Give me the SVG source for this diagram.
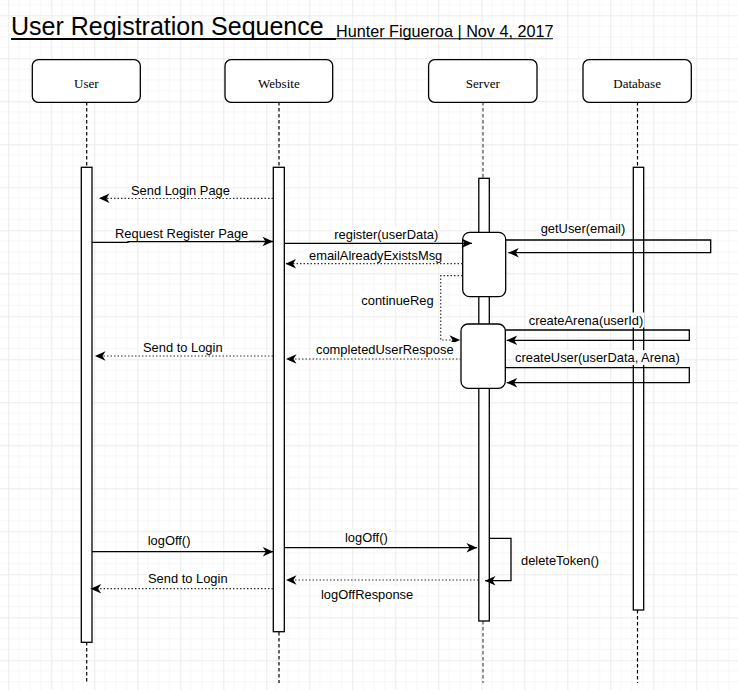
<svg xmlns="http://www.w3.org/2000/svg" width="738" height="690" viewBox="0 0 738 690">
<defs>
<pattern id="grid" patternUnits="userSpaceOnUse" x="8.3" y="15.3" width="43" height="43">
<path d="M10.75,0V43M21.5,0V43M32.25,0V43M0,10.75H43M0,21.5H43M0,32.25H43" stroke="#f6f6f6" stroke-width="1" fill="none"/>
<path d="M0.5,0V43M0,0.5H43" stroke="#ebebeb" stroke-width="1" fill="none"/>
</pattern>
<marker id="arr" markerUnits="userSpaceOnUse" markerWidth="12" markerHeight="10" refX="10.5" refY="4.75" orient="auto" overflow="visible">
<path d="M0,0 L10.5,4.75 L0,9.5 L3,4.75 z" fill="#000"/>
</marker>
</defs>
<style>
.head{fill:#fff;stroke:#000;stroke-width:1.3}
.ht{font-family:"Liberation Serif",serif;font-size:13px;fill:#000;text-anchor:middle}
.bar{fill:#fff;stroke:#000;stroke-width:1.3}
.life{stroke:#000;stroke-width:1.2;stroke-dasharray:3.5 2.5;fill:none}
.sol{stroke:#000;stroke-width:1.3;fill:none}
.dot{stroke:#333;stroke-width:1.2;stroke-dasharray:1.5 2;fill:none}
.lb{font-family:"Liberation Sans",Arial,sans-serif;font-size:12.9px;fill:#000}
.bg{fill:#fff}
</style>
<rect width="738" height="690" fill="#fff"/>
<rect width="738" height="690" fill="url(#grid)"/>

<g id="title">
<text x="11" y="35" font-family="Liberation Sans,Arial,sans-serif" font-size="25px" fill="#000">User Registration Sequence</text>
<line x1="11" y1="39" x2="336" y2="39" stroke="#000" stroke-width="1.8"/>
<text x="336" y="37" font-family="Liberation Sans,Arial,sans-serif" font-size="16.2px" fill="#000">Hunter Figueroa | Nov 4, 2017</text>
<line x1="336" y1="38.8" x2="553" y2="38.8" stroke="#000" stroke-width="1.1"/>
</g>

<g id="lifelines">
<line class="life" x1="86.7" y1="102" x2="86.7" y2="167"/>
<line class="life" x1="86.7" y1="642" x2="86.7" y2="683"/>
<line class="life" x1="279" y1="102" x2="279" y2="167"/>
<line class="life" x1="279" y1="632" x2="279" y2="683"/>
<line class="life" x1="483" y1="102" x2="483" y2="178" style="stroke:#777;stroke-width:1.6"/>
<line class="life" x1="483" y1="621" x2="483" y2="683" style="stroke:#777;stroke-width:1.6"/>
<line class="life" x1="637.5" y1="102" x2="637.5" y2="167"/>
<line class="life" x1="637.5" y1="610" x2="637.5" y2="683"/>
</g>

<g id="user">
<rect class="head" x="32.3" y="59.7" width="108" height="42.6" rx="6"/>
<text class="ht" x="86.3" y="87.5">User</text>
<rect class="bar" x="81.3" y="167.3" width="10.7" height="475"/>
</g>
<g id="website">
<rect class="head" x="225" y="59.7" width="107.7" height="42.6" rx="6"/>
<text class="ht" x="278.9" y="87.5">Website</text>
<rect class="bar" x="273.3" y="167.3" width="11" height="464.4"/>
</g>
<g id="server">
<rect class="head" x="428.6" y="59.7" width="108.4" height="42.6" rx="6"/>
<text class="ht" x="482.8" y="87.5">Server</text>
<rect class="bar" x="478.8" y="178.3" width="10.5" height="442.7"/>
<rect class="bar" x="462.7" y="232.3" width="43" height="64.4" rx="7"/>
<rect class="bar" x="461" y="324" width="44.3" height="64.3" rx="7"/>
</g>
<g id="database">
<rect class="head" x="583" y="59.7" width="108.3" height="42.6" rx="6"/>
<text class="ht" x="637.1" y="87.5">Database</text>
<rect class="bar" x="633.3" y="167.3" width="10.4" height="442.7"/>
</g>

<g id="connectors">
<line class="dot" x1="273" y1="198.3" x2="99" y2="198.3" marker-end="url(#arr)"/>
<polyline class="sol" points="92,242.3 128,242.3 128,241.5 273,241.5" marker-end="url(#arr)"/>
<line class="sol" x1="285" y1="243.3" x2="472" y2="243.3" marker-end="url(#arr)"/>
<line class="dot" x1="462.5" y1="263.7" x2="285.5" y2="263.7" marker-end="url(#arr)"/>
<polyline class="sol" points="505.7,240 710.7,240 710.7,252.7 508.3,252.7" marker-end="url(#arr)"/>
<polyline class="dot" points="462.5,275.7 440.7,275.7 440.7,340 460,340" marker-end="url(#arr)"/>
<polyline class="sol" points="505.3,330 689.3,330 689.3,340.3 506.7,340.3" marker-end="url(#arr)"/>
<polyline class="sol" points="505.3,367.7 689.3,367.7 689.3,382.7 506.7,382.7" marker-end="url(#arr)"/>
<line class="dot" x1="461" y1="359" x2="286" y2="359" marker-end="url(#arr)"/>
<line class="dot" x1="273" y1="356" x2="95" y2="356" marker-end="url(#arr)"/>
<line class="sol" x1="92" y1="551.7" x2="273.3" y2="551.7" marker-end="url(#arr)"/>
<line class="sol" x1="284.5" y1="547.7" x2="477" y2="547.7" marker-end="url(#arr)"/>
<polyline class="sol" points="489.3,538.3 511,538.3 511,580.7 485,580.7" marker-end="url(#arr)"/>
<line class="dot" x1="478.5" y1="580" x2="286" y2="580" marker-end="url(#arr)"/>
<line class="dot" x1="273" y1="588.7" x2="90.7" y2="588.7" marker-end="url(#arr)"/>
</g>

<g id="labels">
<rect class="bg" x="130" y="183" width="101" height="15"/>
<text class="lb" x="131" y="195.2">Send Login Page</text>
<rect class="bg" x="114" y="226" width="135" height="15"/>
<text class="lb" x="115" y="238.2">Request Register Page</text>
<rect class="bg" x="333" y="226.5" width="105" height="15"/>
<text class="lb" x="334.3" y="238.5">register(userData)</text>
<rect class="bg" x="308" y="247.5" width="136" height="15"/>
<text class="lb" x="309" y="259.5">emailAlreadyExistsMsg</text>
<rect class="bg" x="539.5" y="220.5" width="87" height="15"/>
<text class="lb" x="540.7" y="232.5">getUser(email)</text>
<rect class="bg" x="360" y="293" width="74" height="15"/>
<text class="lb" x="361.3" y="304.8">continueReg</text>
<rect class="bg" x="527.5" y="312.5" width="117" height="15"/>
<text class="lb" x="528.7" y="324.5">createArena(userId)</text>
<rect class="bg" x="514" y="350" width="168" height="15"/>
<text class="lb" x="515" y="362.2">createUser(userData, Arena)</text>
<rect class="bg" x="315" y="342" width="140" height="15"/>
<text class="lb" x="316" y="353.8">completedUserRespose</text>
<rect class="bg" x="142" y="339.5" width="82" height="15"/>
<text class="lb" x="143" y="351.5">Send to Login</text>
<rect class="bg" x="146.7" y="532.5" width="45" height="15"/>
<text class="lb" x="147.7" y="544.5">logOff()</text>
<rect class="bg" x="344" y="529.5" width="44.5" height="15"/>
<text class="lb" x="345" y="541.5">logOff()</text>
<rect class="bg" x="520" y="552.5" width="80.5" height="15"/>
<text class="lb" x="521" y="564.5">deleteToken()</text>
<rect class="bg" x="320" y="586.5" width="95" height="15"/>
<text class="lb" x="321" y="598.5">logOffResponse</text>
<rect class="bg" x="147" y="571" width="81" height="15"/>
<text class="lb" x="148" y="583.2">Send to Login</text>
</g>
</svg>
